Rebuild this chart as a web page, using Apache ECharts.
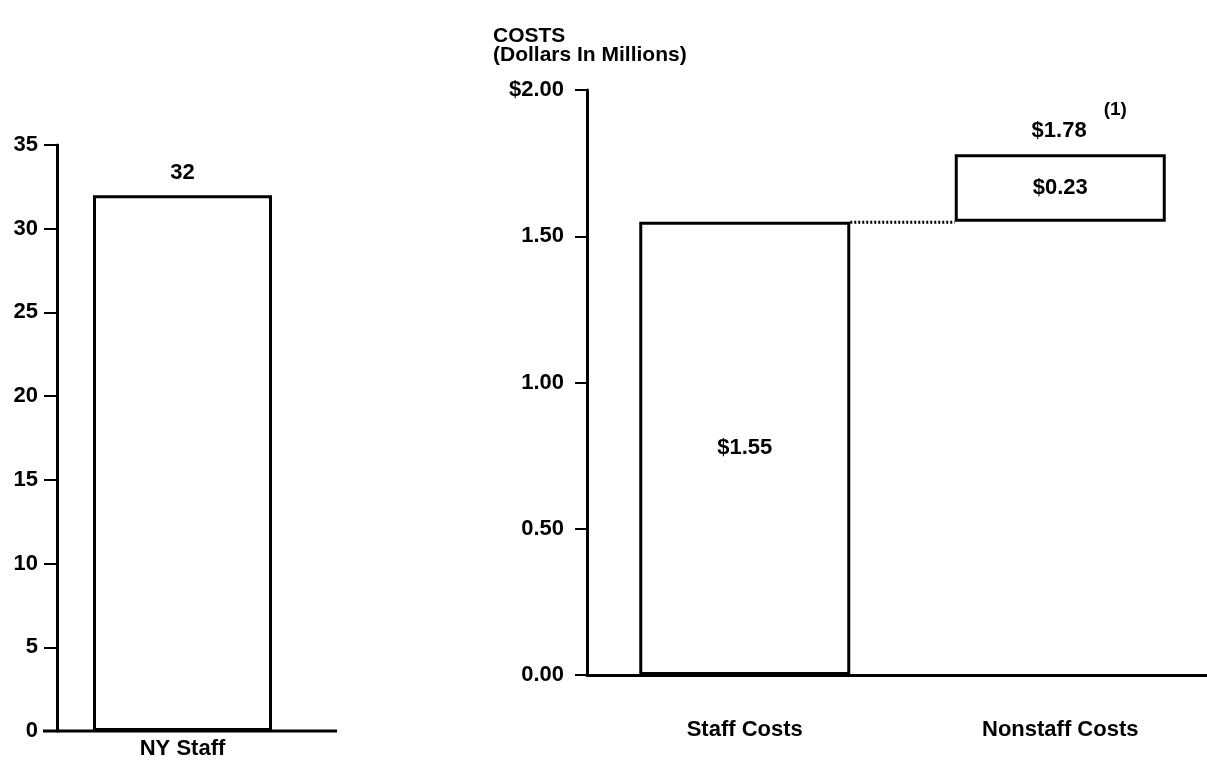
<!DOCTYPE html>
<html>
<head>
<meta charset="utf-8">
<script src="https://cdn.jsdelivr.net/npm/echarts@6/dist/echarts.min.js"></script>
<style>
  html, body { margin: 0; padding: 0; background: #fff; }
  #chart { width: 1207px; height: 762px; }
</style>
</head>
<body>
<div id="chart"></div>
<script>
// Headcount panel
const staffCategories = ['NY Staff'];
const staffCounts = [32];

// Cost panel (waterfall: staff costs, then nonstaff costs stacked on top)
const costCategories = ['Staff Costs', 'Nonstaff Costs'];
const costValues = [1.55, 0.23];
const costTickLabels = ['0.00', '0.50', '1.00', '1.50', '$2.00'];
const costTitleLines = ['COSTS', '(Dollars In Millions)'];
const totalNote = '(1)';

// Invisible bases so each cost block starts where the previous one ended
const costBases = [];
let running = 0;
costValues.forEach(v => { costBases.push(running); running += v; });
const costTotal = Math.round(running * 100) / 100;

const FONT = '"Liberation Sans", Arial, Helvetica, sans-serif';
const txt = { color: '#000', fontFamily: FONT, fontWeight: 'bold', fontSize: 22 };
const barStyle = { color: '#fff', borderColor: '#000', borderWidth: 3 };
const money = v => '$' + v.toFixed(2);
const COST_BAR_WIDTH = 211;

const chart = echarts.init(document.getElementById('chart'), null, { renderer: 'canvas' });

chart.setOption({
  animation: false,
  backgroundColor: '#fff',
  title: {
    text: costTitleLines.join('\n'),
    left: 488, top: 22,
    textStyle: Object.assign({}, txt, { fontSize: 21, lineHeight: 19 })
  },
  grid: [
    { left: 57, top: 145, width: 251, bottom: 31, outerBoundsMode: 'none' },
    // the cost panel's category bands run slightly past the right edge of the page
    { left: 587, top: 90, width: 631, bottom: 87, outerBoundsMode: 'none' }
  ],
  xAxis: [
    {
      type: 'category', gridIndex: 0, data: staffCategories,
      axisLine: { show: false }, axisTick: { show: false },
      axisLabel: Object.assign({}, txt, { margin: 7 })
    },
    {
      type: 'category', gridIndex: 1, data: costCategories,
      axisLine: { show: true, lineStyle: { color: '#000', width: 3 } },
      axisTick: { show: false },
      axisLabel: Object.assign({}, txt, { margin: 44 })
    }
  ],
  yAxis: [
    {
      type: 'value', gridIndex: 0, min: 0, max: 35, interval: 5,
      splitLine: { show: false },
      axisLine: { show: true, lineStyle: { color: '#000', width: 3 } },
      axisTick: { show: true, length: 13, lineStyle: { color: '#000', width: 2 } },
      axisLabel: Object.assign({}, txt, { margin: 19 })
    },
    {
      type: 'value', gridIndex: 1, min: 0, max: 2, interval: 0.5,
      splitLine: { show: false },
      axisLine: { show: true, lineStyle: { color: '#000', width: 3 } },
      axisTick: { show: true, length: 12, lineStyle: { color: '#000', width: 2 } },
      axisLabel: Object.assign({}, txt, {
        margin: 23,
        formatter: (v, i) => costTickLabels[i]
      })
    }
  ],
  series: [
    {
      type: 'bar', xAxisIndex: 0, yAxisIndex: 0,
      data: staffCounts, barWidth: 179, z: 3,
      itemStyle: barStyle,
      label: Object.assign({ show: true, position: 'top', distance: 11 }, txt)
    },
    {
      // dotted connector from the top of one block to the foot of the next
      type: 'custom', xAxisIndex: 1, yAxisIndex: 1, z: 4, silent: true,
      data: costValues.slice(0, -1).map((v, i) => [i, costBases[i] + v]),
      renderItem: (params, api) => {
        const level = api.value(1);
        const a = api.coord([api.value(0), level]);
        const b = api.coord([api.value(0) + 1, level]);
        return {
          type: 'line',
          shape: { x1: a[0] + COST_BAR_WIDTH / 2, y1: a[1] + 0.5, x2: b[0] - COST_BAR_WIDTH / 2, y2: a[1] + 0.5 },
          style: { stroke: '#000', lineWidth: 3, lineDash: [2, 2] }
        };
      }
    },
    {
      type: 'bar', xAxisIndex: 1, yAxisIndex: 1, stack: 'cost',
      data: costBases, barWidth: COST_BAR_WIDTH, z: 2, silent: true,
      itemStyle: { color: 'transparent', borderWidth: 0 }
    },
    {
      type: 'bar', xAxisIndex: 1, yAxisIndex: 1, stack: 'cost',
      data: costValues, barWidth: COST_BAR_WIDTH, z: 3,
      itemStyle: barStyle,
      label: Object.assign({ show: true, position: 'inside', formatter: p => money(p.value) }, txt),
      markPoint: {
        symbol: 'circle', symbolSize: 0, silent: true,
        data: [{ coord: [costCategories[costCategories.length - 1], costTotal], value: costTotal }],
        label: {
          show: true, position: 'top', distance: 14, offset: [19, 21],
          formatter: p => '{v|' + money(p.value) + '}{n|' + totalNote + '}',
          rich: {
            v: Object.assign({}, txt),
            n: Object.assign({}, txt, { fontSize: 19, padding: [0, 0, 42, 17] })
          }
        }
      }
    }
  ]
});

// Baseline of the headcount panel runs past both ends of its plot area
const y0 = chart.convertToPixel({ yAxisIndex: 0 }, 0);
chart.setOption({
  graphic: [{
    type: 'line', silent: true,
    shape: { x1: 43, y1: y0, x2: 337, y2: y0 },
    style: { stroke: '#000', lineWidth: 3 }
  }]
});
</script>
</body>
</html>
